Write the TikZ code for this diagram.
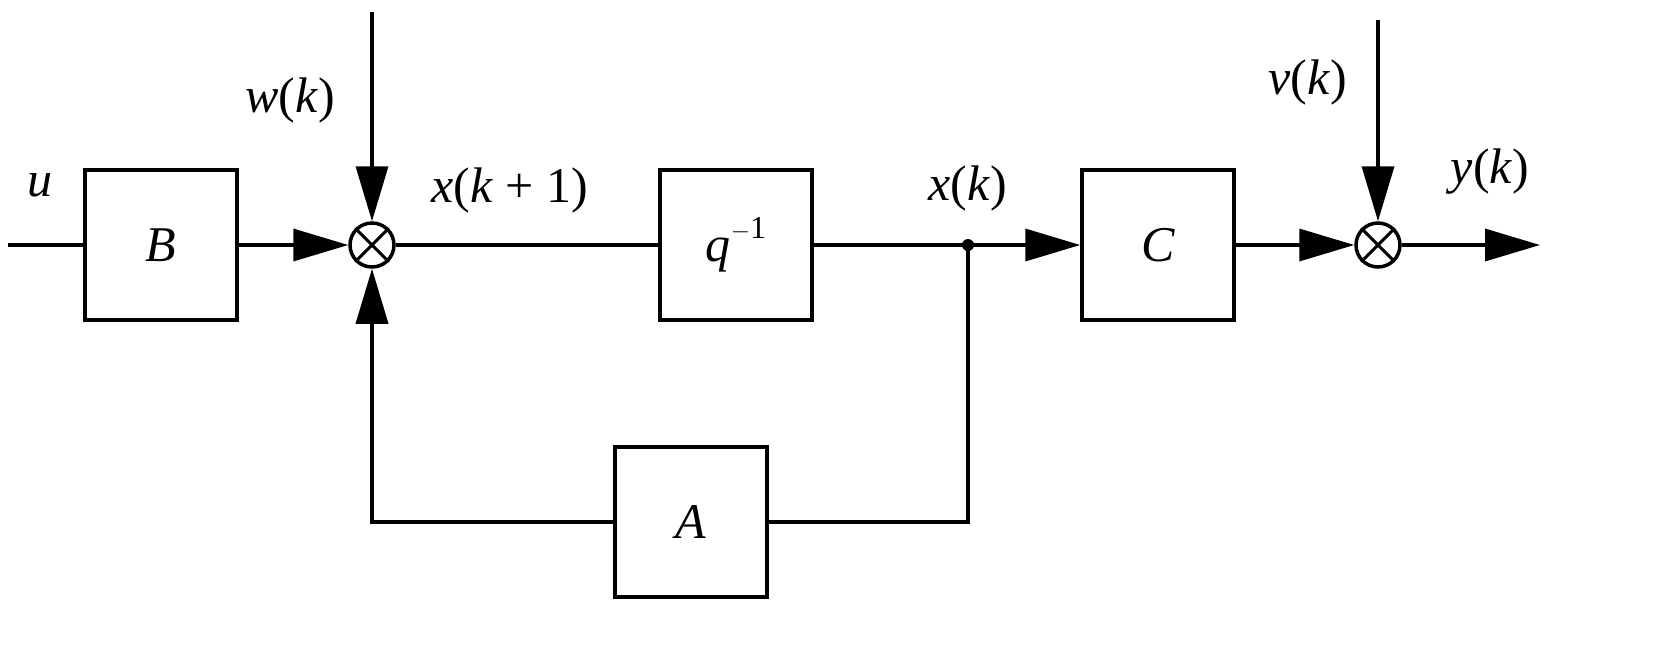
\documentclass[tikz,border=0pt]{standalone}
\usepackage{fontspec}
\setmainfont{Liberation Serif}
\usetikzlibrary{arrows.meta}
\newcommand{\iv}[1]{\textit{#1}}
\begin{document}
\begin{tikzpicture}[x=1pt,y=-1pt,line width=3.5pt,
  blk/.style={draw,minimum width=152pt,minimum height=150pt,inner sep=0pt,font=\fontsize{50}{54}\selectfont},
  sum/.style={draw,circle,minimum size=44pt,inner sep=0pt},
  lab/.style={font=\fontsize{50}{54}\selectfont,inner sep=0pt},
  arr/.style={-{Triangle[length=55pt,width=32pt]}}]
\useasboundingbox (0,0) rectangle (1654,649);
\node[blk] (B) at (161,245) {\iv{B}};
\node[blk] (Q) at (736,245) {\iv{q}\raisebox{0.45em}{\fontsize{32}{34}\selectfont $-$1}};
\node[blk] (C) at (1158,245) {\iv{C}};
\node[blk] (A) at (691,522) {\iv{A}};
\node[sum] (S1) at (372,245) {};
\node[sum] (S2) at (1378,245) {};
\foreach \s in {S1,S2}{
  \draw[line width=3pt] (\s.north east)--(\s.south west) (\s.north west)--(\s.south east);}
\coordinate (uin) at (8,245);
\coordinate (wtop) at (372,12);
\coordinate (vtop) at (1378,20);
\coordinate (yout) at (1540,245);
\coordinate (J) at (968,245);
\coordinate (J2) at (968,522);
\coordinate (L2) at (372,522);
\draw (uin)--(B.west);
\draw[arr] (B.east)--(S1.west);
\draw[arr] (wtop)--(S1.north);
\draw (S1.east)--(Q.west);
\draw[arr] (Q.east)--(C.west);
\fill (J) circle (6pt);
\draw (J)--(J2)--(A.east);
\draw[arr] (A.west)--(L2)--(S1.south);
\draw[arr] (C.east)--(S2.west);
\draw[arr] (vtop)--(S2.north);
\draw[arr] (S2.east)--(yout);
\node[lab] (lu) at (40,185) {\iv{u}};
\node[lab] (lw) at (290,100) {\iv{w}(\iv{k})};
\node[lab] (lx1) at (510,190) {\iv{x}(\iv{k} + 1)};
\node[lab] (lx) at (968,188) {\iv{x}(\iv{k})};
\node[lab] (lv) at (1308,82) {\iv{v}(\iv{k})};
\node[lab] (ly) at (1490,172) {\iv{y}(\iv{k})};
\end{tikzpicture}
\end{document}
